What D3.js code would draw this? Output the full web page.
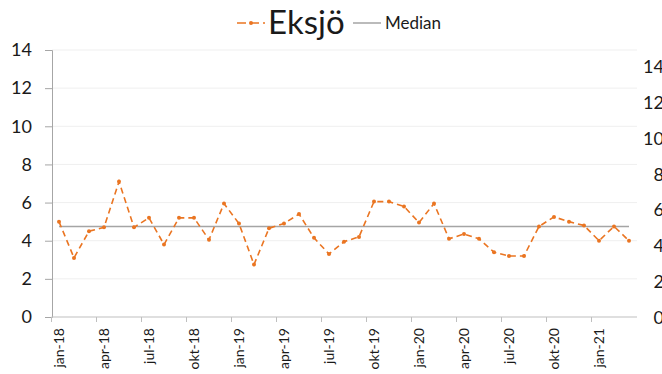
<!DOCTYPE html>
<html>
<head>
<meta charset="utf-8">
<script src="https://cdn.jsdelivr.net/npm/d3@7"></script>
<style>
  html, body { margin: 0; padding: 0; background: #fff; }
  svg { display: block; font-family: Lato, "Noto Sans", sans-serif; }
</style>
</head>
<body>
<svg id="chart" width="662" height="374"></svg>
<script>
// Monthly values for Eksjö, jan-18 .. mar-21
const months = [
  "jan-18","feb-18","mar-18","apr-18","maj-18","jun-18","jul-18","aug-18","sep-18","okt-18","nov-18","dec-18",
  "jan-19","feb-19","mar-19","apr-19","maj-19","jun-19","jul-19","aug-19","sep-19","okt-19","nov-19","dec-19",
  "jan-20","feb-20","mar-20","apr-20","maj-20","jun-20","jul-20","aug-20","sep-20","okt-20","nov-20","dec-20",
  "jan-21","feb-21","mar-21"
];
const eksjo = [
  5.0, 3.1, 4.5, 4.7, 7.1, 4.7, 5.2, 3.8, 5.2, 5.2, 4.05, 5.95,
  4.9, 2.75, 4.65, 4.9, 5.4, 4.15, 3.3, 3.95, 4.2, 6.05, 6.05, 5.8,
  4.95, 5.95, 4.1, 4.35, 4.1, 3.4, 3.2, 3.2, 4.75, 5.25, 5.0, 4.8,
  4.0, 4.75, 4.0
];
const medianValue = 4.75;
const yTicks = [0, 2, 4, 6, 8, 10, 12, 14];
const tickMonths = ["jan-18","apr-18","jul-18","okt-18","jan-19","apr-19","jul-19","okt-19","jan-20","apr-20","jul-20","okt-20","jan-21"];

const svg = d3.select("#chart");
const orange = "#EA7522";
const grey = "#A5A5A5";

const x = d3.scaleBand().domain(months).range([51.5, 636.5]);
const cx = d => x(d) + x.bandwidth() / 2;
const y = d3.scaleLinear().domain([0, 14]).range([317, 50]);
// secondary axis on the right, laid out over a shorter span
const y2 = d3.scaleLinear().domain([0, 14]).range([317.5, 67]);

// horizontal gridlines
svg.append("g").selectAll("line").data(yTicks.filter(v => v > 0)).join("line")
  .attr("x1", 52).attr("x2", 637)
  .attr("y1", d => y(d)).attr("y2", d => y(d))
  .attr("stroke", "#EFEFEF").attr("stroke-width", 1);

// left axis
const yAxis = d3.axisLeft(y).tickValues(yTicks).tickSize(7).tickPadding(13);
const gy = svg.append("g").attr("transform", "translate(52,0)").call(yAxis);
gy.select(".domain").attr("stroke", "#A6A6A6");
gy.selectAll(".tick line").attr("stroke", "#A6A6A6");
gy.selectAll("text").attr("font-size", 18).attr("fill", "#1a1a1a").attr("font-family", "Lato, 'Noto Sans', sans-serif");

// right axis labels (no line)
const yAxis2 = d3.axisRight(y2).tickValues(yTicks).tickSize(0).tickPadding(0);
const gy2 = svg.append("g").attr("transform", "translate(664,0)").call(yAxis2);
gy2.select(".domain").remove();
gy2.selectAll("text").attr("font-size", 18).attr("fill", "#1a1a1a")
  .attr("text-anchor", "end").attr("font-family", "Lato, 'Noto Sans', sans-serif");

// bottom axis: tick marks between categories every third month
const gx = svg.append("g").attr("transform", "translate(0,317)");
gx.append("line").attr("x1", 51.5).attr("x2", 637).attr("stroke", "#BFBFBF");
gx.selectAll("line.tk").data(tickMonths).join("line").attr("class", "tk")
  .attr("x1", d => x(d)).attr("x2", d => x(d)).attr("y1", 0).attr("y2", 5)
  .attr("stroke", "#BFBFBF");
gx.selectAll("text").data(tickMonths).join("text")
  .attr("transform", d => `translate(${cx(d) + 5},11) rotate(-90)`)
  .attr("text-anchor", "end")
  .attr("font-size", 14).attr("fill", "#1a1a1a")
  .text(d => d);

// median line
svg.append("line")
  .attr("x1", cx(months[0])).attr("x2", cx(months[months.length - 1]))
  .attr("y1", y(medianValue)).attr("y2", y(medianValue))
  .attr("stroke", grey).attr("stroke-width", 1.5);

// Eksjö series
const line = d3.line().x((d, i) => cx(months[i])).y(d => y(d));
svg.append("path").datum(eksjo)
  .attr("d", line).attr("fill", "none")
  .attr("stroke", orange).attr("stroke-width", 1.6)
  .attr("stroke-dasharray", "6,4");
svg.append("g").selectAll("circle").data(eksjo).join("circle")
  .attr("cx", (d, i) => cx(months[i])).attr("cy", d => y(d))
  .attr("r", 2).attr("fill", orange);

// legend
const lg = svg.append("g");
lg.append("line").attr("x1", 237).attr("x2", 265).attr("y1", 23).attr("y2", 23)
  .attr("stroke", orange).attr("stroke-width", 1.6).attr("stroke-dasharray", "9,4");
lg.append("circle").attr("cx", 251).attr("cy", 23).attr("r", 2).attr("fill", orange);
lg.append("text").attr("x", 268).attr("y", 34).attr("font-size", 33).attr("fill", "#1a1a1a").text("Eksjö");
lg.append("line").attr("x1", 353).attr("x2", 381).attr("y1", 23).attr("y2", 23)
  .attr("stroke", grey).attr("stroke-width", 1.5);
lg.append("text").attr("x", 385).attr("y", 29).attr("font-size", 17).attr("fill", "#1a1a1a").text("Median");
</script>
</body>
</html>
